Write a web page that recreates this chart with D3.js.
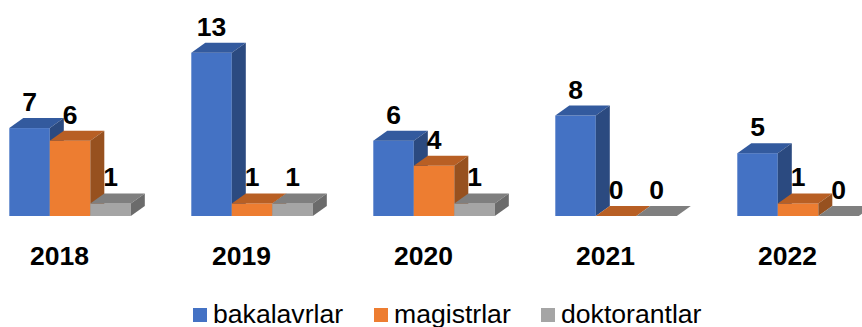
<!DOCTYPE html>
<html>
<head>
<meta charset="utf-8">
<script src="https://cdn.jsdelivr.net/npm/d3@7"></script>
<style>
  html, body { margin: 0; padding: 0; background: #fff; }
  text { font-family: "Liberation Sans", Arial, sans-serif; fill: #000; }
</style>
</head>
<body>
<div id="chart"></div>
<script>
const years = ["2018", "2019", "2020", "2021", "2022"];
const seriesNames = ["bakalavrlar", "magistrlar", "doktorantlar"];
const bakalavrlar = [7, 13, 6, 8, 5];
const magistrlar = [6, 1, 4, 0, 1];
const doktorantlar = [1, 1, 1, 0, 0];
const seriesValues = [bakalavrlar, magistrlar, doktorantlar];

const frontColors = ["#4472c4", "#ed7d31", "#a5a5a5"];
const topColors = ["#335a9e", "#b85f24", "#7f7f7f"];
const sideColors = ["#2b4a80", "#97511f", "#6b6b6b"];

const width = 862;
const height = 327;
const baseY = 216;
const depthX = 14;
const depthY = 10;

const svg = d3.select("#chart")
  .append("svg")
  .attr("width", width)
  .attr("height", height)
  .style("display", "block");

const x0 = d3.scaleBand()
  .domain(years)
  .range([9.3, 858.8])
  .paddingInner(0.3324);

const x1 = d3.scaleBand()
  .domain(seriesNames)
  .range([0, x0.bandwidth()]);

const y = d3.scaleLinear()
  .domain([0, 13])
  .range([baseY, 52.7]);

const groups = svg.selectAll("g.year")
  .data(years)
  .enter()
  .append("g")
  .attr("class", "year")
  .attr("transform", d => `translate(${x0(d)},0)`);

groups.each(function(year, i) {
  const g = d3.select(this);
  seriesNames.forEach((name, s) => {
    const left = x1(name);
    const right = left + x1.bandwidth();
    const top = y(seriesValues[s][i]);

    // front face
    g.append("rect")
      .attr("x", left)
      .attr("y", top)
      .attr("width", x1.bandwidth())
      .attr("height", baseY - top)
      .attr("fill", frontColors[s]);

    // top face
    g.append("path")
      .attr("fill", topColors[s])
      .attr("d", d3.line()([
        [left, top], [left + depthX, top - depthY],
        [right + depthX, top - depthY], [right, top]
      ]) + "Z");

    // side face
    g.append("path")
      .attr("fill", sideColors[s])
      .attr("d", d3.line()([
        [right, top], [right + depthX, top - depthY],
        [right + depthX, baseY - depthY], [right, baseY]
      ]) + "Z");
  });
});

// value labels go on last so no bar covers them
groups.each(function(year, i) {
  const g = d3.select(this);
  seriesNames.forEach((name, s) => {
    const v = seriesValues[s][i];
    g.append("text")
      .attr("x", x1(name) + x1.bandwidth() / 2)
      .attr("y", y(v) - 17)
      .attr("text-anchor", "middle")
      .attr("font-size", 26.5)
      .attr("font-weight", "bold")
      .text(v);
  });
});

groups.append("text")
  .attr("x", x0.bandwidth() / 2 - 10.5)
  .attr("y", 265)
  .attr("text-anchor", "middle")
  .attr("font-size", 26.5)
  .attr("font-weight", "bold")
  .text(d => d);

const legendX = [193, 374, 541];
const legend = svg.selectAll("g.legend")
  .data(seriesNames)
  .enter()
  .append("g")
  .attr("class", "legend")
  .attr("transform", (d, i) => `translate(${legendX[i]},308)`);

legend.append("rect")
  .attr("width", 14)
  .attr("height", 14)
  .attr("fill", (d, i) => frontColors[i]);

legend.append("text")
  .attr("x", 20)
  .attr("y", 14.5)
  .attr("font-size", 26.6)
  .text(d => d);
</script>
</body>
</html>
